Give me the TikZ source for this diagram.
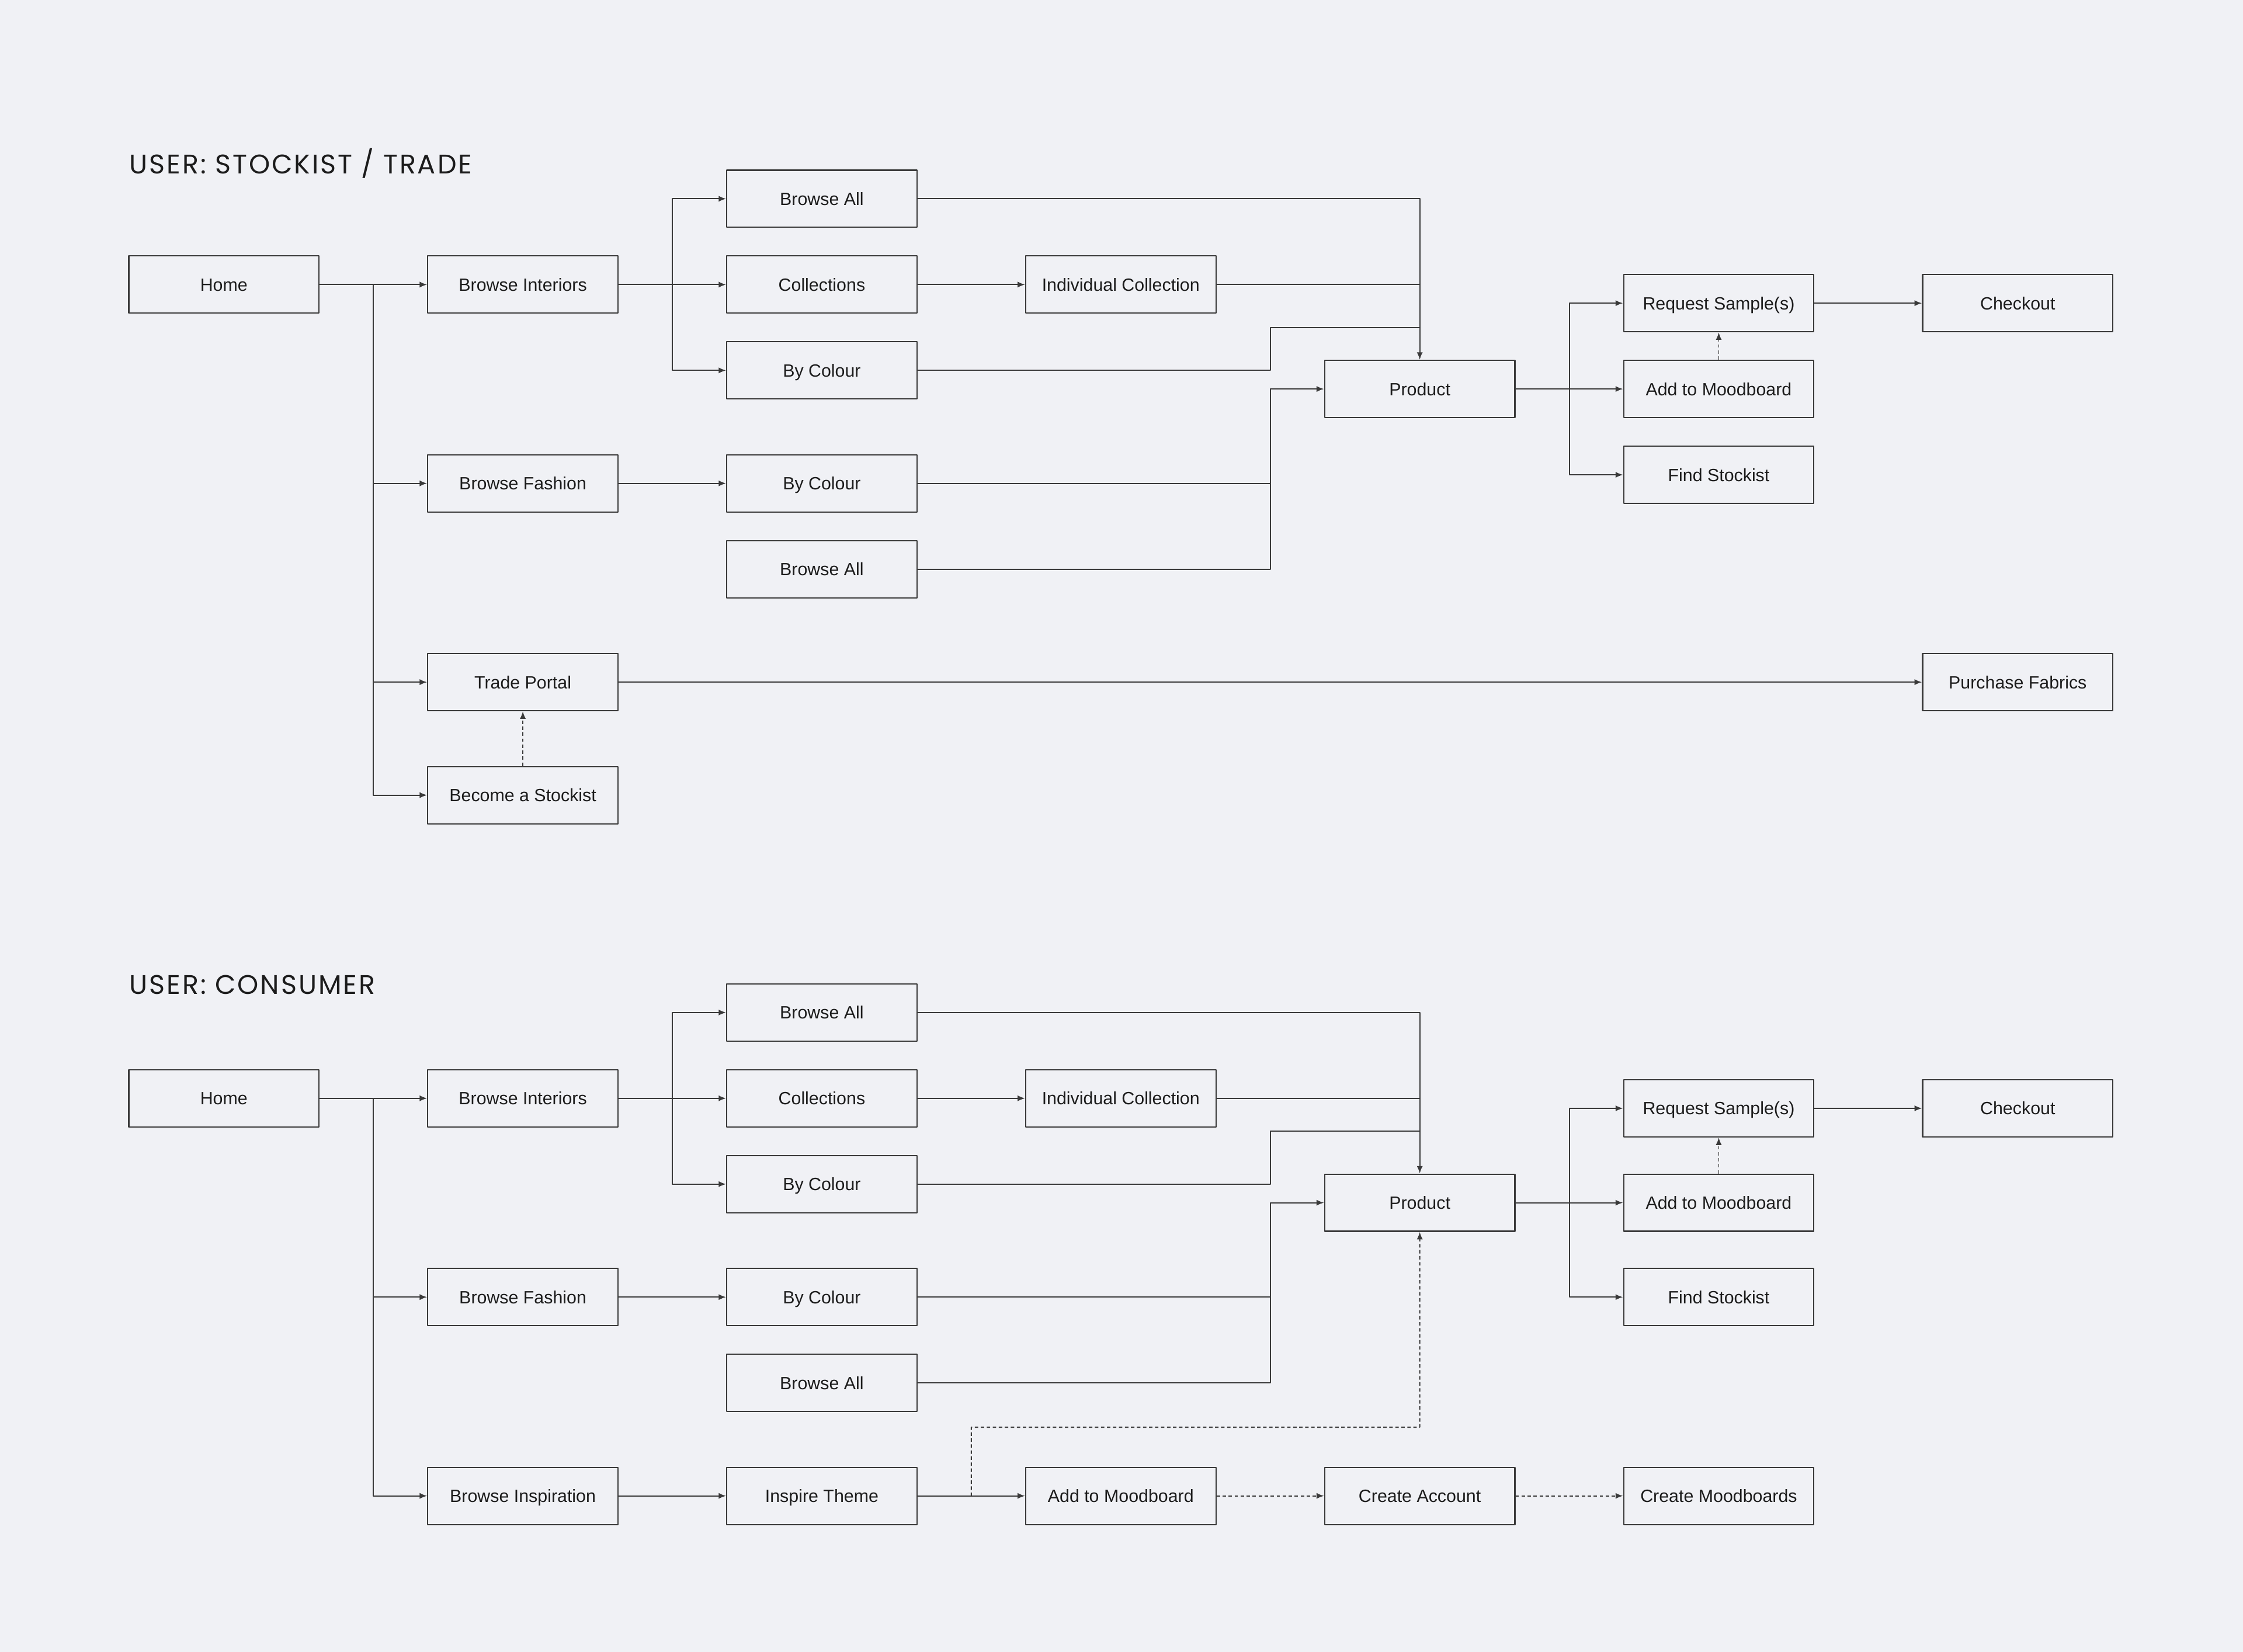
\documentclass[tikz,border=0pt]{standalone}
\usepackage{fontspec}
\setmainfont{Liberation Sans}
\newfontfamily\titlefont[LetterSpace=6.5]{Poppins}
\usetikzlibrary{arrows.meta,calc}
\definecolor{bgc}{RGB}{240,241,245}
\definecolor{linec}{RGB}{58,58,58}
\definecolor{textc}{RGB}{28,28,28}
\tikzset{
  box/.style={draw=linec, line width=0.45pt, minimum width=66.5pt, minimum height=20pt, inner sep=0pt, text height=4.5pt, text depth=0pt, text=textc, font=\fontsize{6.2}{7}\selectfont},
  title/.style={anchor=base west, inner sep=0pt, text=textc, font=\titlefont\fontsize{9.4}{11}\selectfont},
  link/.style={draw=linec, line width=0.4pt},
  dsh/.style={link, dash pattern=on 1.2pt off 0.9pt}
}
\begin{document}
\begin{tikzpicture}[x=0.5pt,y=-0.5pt,>={Latex[length=2.6pt,width=2.1pt]},line join=round]
\def \W{1568};
\def \H{1155};
\fill[bgc] (0,0) rectangle (\W,\H);
\useasboundingbox (0,0) rectangle (\W,\H);

% stockist / trade
\node[title] (ttitle) at (90,121.5) {USER: STOCKIST / TRADE};
\foreach \n/\x/\y/\t in {thome/156.5/199/Home, tbint/365.5/199/Browse Interiors, tbfash/365.5/338/Browse Fashion,
  ttrade/365.5/477/Trade Portal, tstock/365.5/556/Become a Stockist, tball/574.5/139/Browse All,
  tcoll/574.5/199/Collections, tbcol/574.5/259/By Colour, tfcol/574.5/338/By Colour, tfall/574.5/398/Browse All,
  tindiv/783.5/199/Individual Collection, tprod/992.5/272/Product, treq/1201.5/212/{Request Sample(s)},
  tmood/1201.5/272/Add to Moodboard, tfind/1201.5/332/Find Stockist, tcheck/1410.5/212/Checkout,
  tpurch/1410.5/477/Purchase Fabrics}{\node[box] (\n) at (\x,\y) {\t};}

\coordinate (tb1) at ($(thome.east)!.5!(tbint.west)$);
\coordinate (tb2) at ($(tbint.east)!.5!(tcoll.west)$);
\coordinate (tb6) at ($(tprod.east)!.5!(tmood.west)$);
\coordinate (tr4) at (888,229);
\coordinate (tj) at (888,272);
\draw[link,->] (thome) -- (tbint);
\foreach \n in {tbfash,ttrade,tstock}{\draw[link,->] (tb1) |- (\n);}
\draw[link,->] (tbint) -- (tcoll);
\foreach \n in {tball,tbcol}{\draw[link,->] (tb2) |- (\n);}
\draw[link,->] (tcoll) -- (tindiv);
\draw[link,->] (tbfash) -- (tfcol);
\draw[link,->] (tball.east) -| (tprod);
\draw[link] (tindiv.east) -- (tindiv.east -| tprod);
\draw[link] (tbcol.east) -| (tr4) -- (tr4 -| tprod);
\draw[link] (tfcol.east) -- (tfcol.east -| tj);
\draw[link,->] (tfall.east) -| (tj) -- (tprod);
\draw[link,->] (tprod) -- (tmood);
\foreach \n in {treq,tfind}{\draw[link,->] (tb6) |- (\n);}
\draw[link,->] (treq) -- (tcheck);
\draw[dsh,->] (tmood) -- (treq);
\draw[link,->] (ttrade) -- (tpurch);
\draw[dsh,->] (tstock) -- (ttrade);

% consumer
\node[title] (btitle) at (90,695) {USER: CONSUMER};
\foreach \n/\x/\y/\t in {bhome/156.5/768/Home, bbint/365.5/768/Browse Interiors, bbfash/365.5/907/Browse Fashion,
  binsp/365.5/1046/Browse Inspiration, bball/574.5/708/Browse All, bcoll/574.5/768/Collections,
  bbcol/574.5/828/By Colour, bfcol/574.5/907/By Colour, bfall/574.5/967/Browse All, btheme/574.5/1046/Inspire Theme,
  bindiv/783.5/768/Individual Collection, bamood/783.5/1046/Add to Moodboard, bprod/992.5/841/Product,
  bacc/992.5/1046/Create Account, breq/1201.5/775/{Request Sample(s)}, bmood/1201.5/841/Add to Moodboard,
  bfind/1201.5/907/Find Stockist, bcmood/1201.5/1046/Create Moodboards, bcheck/1410.5/775/Checkout}{\node[box] (\n) at (\x,\y) {\t};}

\coordinate (bb1) at ($(bhome.east)!.5!(bbint.west)$);
\coordinate (bb2) at ($(bbint.east)!.5!(bcoll.west)$);
\coordinate (bb6) at ($(bprod.east)!.5!(bmood.west)$);
\coordinate (bb7) at ($(btheme.east)!.5!(bamood.west)$);
\coordinate (br4) at (888,791);
\coordinate (bj) at (888,841);
\coordinate (bk) at (679,998);
\draw[link,->] (bhome) -- (bbint);
\foreach \n in {bbfash,binsp}{\draw[link,->] (bb1) |- (\n);}
\draw[link,->] (bbint) -- (bcoll);
\foreach \n in {bball,bbcol}{\draw[link,->] (bb2) |- (\n);}
\draw[link,->] (bcoll) -- (bindiv);
\draw[link,->] (bbfash) -- (bfcol);
\draw[link,->] (bball.east) -| (bprod);
\draw[link] (bindiv.east) -- (bindiv.east -| bprod);
\draw[link] (bbcol.east) -| (br4) -- (br4 -| bprod);
\draw[link] (bfcol.east) -- (bfcol.east -| bj);
\draw[link,->] (bfall.east) -| (bj) -- (bprod);
\draw[link,->] (bprod) -- (bmood);
\foreach \n in {breq,bfind}{\draw[link,->] (bb6) |- (\n);}
\draw[link,->] (breq) -- (bcheck);
\draw[dsh,->] (bmood) -- (breq);
\draw[link,->] (binsp) -- (btheme);
\draw[link,->] (btheme) -- (bamood);
\draw[dsh,->] (bb7) -- (bk) -| (bprod);
\draw[dsh,->] (bamood) -- (bacc);
\draw[dsh,->] (bacc) -- (bcmood);
\end{tikzpicture}
\end{document}
